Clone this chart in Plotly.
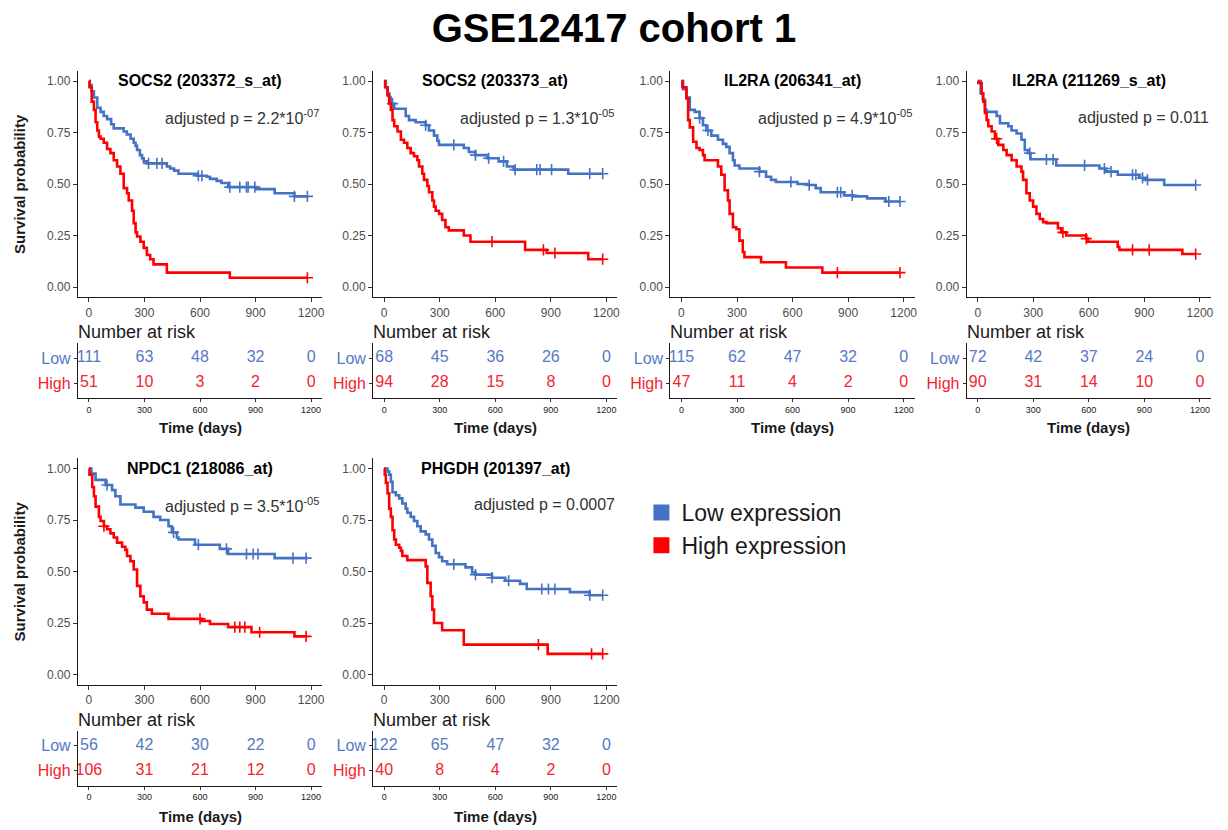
import plotly.graph_objects as go

FONT = "Liberation Sans, Arial, sans-serif"
BLUE = "#4472C4"
RED = "#FF0000"
BLUE_TXT = "#5479C6"
RED_TXT = "#F2242F"

fig_title = "GSE12417 cohort 1"
panel_titles = ["SOCS2 (203372_s_at)", "SOCS2 (203373_at)", "IL2RA (206341_at)",
                "IL2RA (211269_s_at)", "NPDC1 (218086_at)", "PHGDH (201397_at)"]
p_labels = ["adjusted p = 2.2*10<sup>-07</sup>", "adjusted p = 1.3*10<sup>-05</sup>",
            "adjusted p = 4.9*10<sup>-05</sup>", "adjusted p = 0.011",
            "adjusted p = 3.5*10<sup>-05</sup>", "adjusted p = 0.0007"]
group_names = ["Low expression", "High expression"]
risk_times = [0, 300, 600, 900, 1200]
surv_ticks = [0, 0.25, 0.5, 0.75, 1.0]

# ---- Panel 1: SOCS2 (203372_s_at)
p1_low_t = [0, 5, 15, 27, 45, 63, 80, 98, 120, 134, 188, 205, 225, 242, 252, 260, 275, 287, 296, 313,
            421, 439, 460, 484, 582, 636, 654, 690, 716, 752, 904, 1003, 1110, 1180]
p1_low_s = [1.0, 0.98, 0.95, 0.92, 0.87, 0.85, 0.83, 0.815, 0.79, 0.77, 0.755, 0.74, 0.72, 0.70, 0.685,
            0.665, 0.64, 0.625, 0.61, 0.60, 0.585, 0.575, 0.565, 0.55, 0.54, 0.535, 0.525, 0.515, 0.505,
            0.485, 0.475, 0.455, 0.44, 0.44]
p1_low_cens = [322, 367, 395, 591, 610, 761, 815, 851, 860, 896, 1110, 1180]
p1_high_t = [0, 3, 15, 27, 36, 45, 54, 63, 80, 98, 116, 134, 152, 170, 188, 206, 215, 233, 242, 252,
             260, 278, 296, 313, 331, 349, 421, 761, 1180]
p1_high_s = [1.0, 0.97, 0.90, 0.86, 0.80, 0.76, 0.73, 0.72, 0.70, 0.67, 0.65, 0.615, 0.585, 0.55, 0.48,
             0.455, 0.42, 0.37, 0.31, 0.265, 0.245, 0.22, 0.19, 0.155, 0.135, 0.11, 0.07, 0.045, 0.045]
p1_high_cens = [1180]
p1_risk_low = [111, 63, 48, 32, 0]
p1_risk_high = [51, 10, 3, 2, 0]

# ---- Panel 2: SOCS2 (203373_at)
p2_low_t = [0, 9, 18, 27, 36, 54, 116, 134, 170, 224, 242, 269, 287, 296, 430, 457, 493, 555, 618,
            663, 699, 994, 1180]
p2_low_s = [1.0, 0.97, 0.94, 0.92, 0.89, 0.865, 0.83, 0.81, 0.80, 0.785, 0.76, 0.735, 0.71, 0.69,
            0.675, 0.655, 0.64, 0.625, 0.61, 0.585, 0.57, 0.55, 0.55]
p2_low_cens = [45, 224, 376, 493, 564, 645, 707, 824, 842, 904, 1110, 1180]
p2_high_t = [0, 5, 18, 27, 36, 45, 54, 72, 90, 107, 125, 143, 161, 179, 188, 206, 215, 233, 242, 260,
             269, 278, 296, 313, 331, 349, 430, 466, 761, 878, 1102, 1180]
p2_high_s = [1.0, 0.97, 0.93, 0.89, 0.86, 0.81, 0.78, 0.755, 0.715, 0.70, 0.675, 0.65, 0.635, 0.615,
             0.585, 0.55, 0.52, 0.49, 0.46, 0.42, 0.39, 0.37, 0.355, 0.325, 0.29, 0.275, 0.25, 0.22,
             0.18, 0.165, 0.135, 0.135]
p2_high_cens = [582, 860, 922, 1180]
p2_risk_low = [68, 45, 36, 26, 0]
p2_risk_high = [94, 28, 15, 8, 0]

# ---- Panel 3: IL2RA (206341_at)
p3_low_t = [0, 9, 27, 45, 72, 98, 116, 134, 161, 197, 224, 242, 260, 278, 287, 313, 421, 457, 484,
            510, 627, 681, 725, 752, 878, 931, 1003, 1102, 1180]
p3_low_s = [1.0, 0.96, 0.92, 0.86, 0.85, 0.82, 0.785, 0.76, 0.735, 0.715, 0.695, 0.68, 0.65, 0.615,
            0.59, 0.575, 0.56, 0.535, 0.52, 0.51, 0.50, 0.495, 0.48, 0.46, 0.445, 0.44, 0.43, 0.415, 0.415]
p3_low_cens = [98, 143, 421, 591, 690, 842, 860, 922, 1120, 1180]
p3_high_t = [0, 5, 27, 36, 45, 63, 81, 98, 116, 125, 197, 215, 233, 251, 260, 278, 296, 313, 331, 340,
             430, 564, 761, 1180]
p3_high_s = [1.0, 0.97, 0.915, 0.81, 0.775, 0.705, 0.675, 0.665, 0.64, 0.615, 0.585, 0.545, 0.47,
             0.42, 0.355, 0.29, 0.28, 0.225, 0.17, 0.145, 0.12, 0.095, 0.07, 0.07]
p3_high_cens = [842, 1180]
p3_risk_low = [115, 62, 47, 32, 0]
p3_risk_high = [47, 11, 4, 2, 0]

# ---- Panel 4: IL2RA (211269_s_at)
p4_low_t = [0, 16, 27, 39, 48, 102, 120, 165, 183, 210, 236, 254, 272, 285, 424, 657, 693, 756, 872,
            908, 1007, 1180]
p4_low_s = [1.0, 0.94, 0.91, 0.86, 0.85, 0.83, 0.795, 0.78, 0.76, 0.745, 0.715, 0.665, 0.65, 0.62,
            0.59, 0.575, 0.56, 0.545, 0.53, 0.52, 0.495, 0.495]
p4_low_cens = [281, 371, 407, 577, 684, 720, 836, 854, 890, 917, 1177]
p4_high_t = [0, 3, 21, 30, 39, 48, 57, 75, 93, 111, 138, 156, 183, 210, 236, 245, 263, 281, 299, 317,
             335, 353, 371, 433, 451, 478, 586, 595, 756, 765, 1105, 1180]
p4_high_s = [1.0, 0.99, 0.94, 0.90, 0.845, 0.81, 0.78, 0.755, 0.72, 0.69, 0.665, 0.64, 0.615, 0.585,
             0.56, 0.52, 0.455, 0.42, 0.39, 0.355, 0.33, 0.315, 0.31, 0.285, 0.265, 0.25, 0.235, 0.22,
             0.195, 0.18, 0.16, 0.16]
p4_high_cens = [102, 460, 586, 836, 926, 1177]
p4_risk_low = [72, 42, 37, 24, 0]
p4_risk_high = [90, 31, 14, 10, 0]

# ---- Panel 5: NPDC1 (218086_at)
p5_low_t = [0, 13, 36, 90, 125, 143, 170, 251, 296, 349, 385, 430, 448, 475, 484, 573, 707, 752,
            1003, 1180]
p5_low_s = [1.0, 0.975, 0.945, 0.92, 0.895, 0.865, 0.825, 0.81, 0.79, 0.765, 0.75, 0.72, 0.69, 0.665,
            0.655, 0.63, 0.61, 0.585, 0.565, 0.565]
p5_low_cens = [98, 457, 591, 743, 851, 887, 913, 1102, 1173]
p5_high_t = [0, 3, 18, 27, 36, 54, 63, 81, 98, 116, 134, 152, 179, 197, 206, 224, 242, 260, 278, 296,
             313, 340, 430, 609, 654, 752, 878, 1110, 1180]
p5_high_s = [1.0, 0.97, 0.91, 0.865, 0.815, 0.765, 0.745, 0.72, 0.705, 0.685, 0.665, 0.64, 0.62, 0.605,
             0.575, 0.55, 0.51, 0.43, 0.38, 0.35, 0.315, 0.295, 0.27, 0.26, 0.245, 0.23, 0.205, 0.185,
             0.185]
p5_high_cens = [81, 600, 788, 815, 842, 922, 1173]
p5_risk_low = [56, 42, 30, 22, 0]
p5_risk_high = [106, 31, 21, 12, 0]

# ---- Panel 6: PHGDH (201397_at)
p6_low_t = [0, 18, 27, 36, 45, 63, 81, 98, 116, 125, 143, 161, 179, 197, 224, 242, 260, 278, 296, 313,
            340, 439, 475, 493, 582, 654, 734, 770, 1003, 1110, 1180]
p6_low_s = [1.0, 0.985, 0.97, 0.935, 0.885, 0.87, 0.855, 0.83, 0.805, 0.785, 0.765, 0.745, 0.72, 0.695,
            0.68, 0.655, 0.625, 0.59, 0.57, 0.55, 0.535, 0.52, 0.495, 0.485, 0.47, 0.455, 0.44, 0.415,
            0.40, 0.385, 0.385]
p6_low_cens = [376, 493, 582, 672, 851, 887, 922, 1110, 1180]
p6_high_t = [0, 3, 9, 18, 27, 36, 45, 54, 63, 81, 90, 98, 125, 224, 233, 251, 260, 269, 313, 430, 883,
             1180]
p6_high_s = [1.0, 0.97, 0.93, 0.88, 0.805, 0.765, 0.70, 0.655, 0.63, 0.615, 0.60, 0.575, 0.555, 0.525,
             0.445, 0.38, 0.315, 0.25, 0.215, 0.145, 0.10, 0.10]
p6_high_cens = [833, 1120, 1180]
p6_risk_low = [122, 65, 47, 32, 0]
p6_risk_high = [40, 8, 4, 2, 0]

panels = [
    (p1_low_t, p1_low_s, p1_low_cens, p1_high_t, p1_high_s, p1_high_cens, p1_risk_low, p1_risk_high),
    (p2_low_t, p2_low_s, p2_low_cens, p2_high_t, p2_high_s, p2_high_cens, p2_risk_low, p2_risk_high),
    (p3_low_t, p3_low_s, p3_low_cens, p3_high_t, p3_high_s, p3_high_cens, p3_risk_low, p3_risk_high),
    (p4_low_t, p4_low_s, p4_low_cens, p4_high_t, p4_high_s, p4_high_cens, p4_risk_low, p4_risk_high),
    (p5_low_t, p5_low_s, p5_low_cens, p5_high_t, p5_high_s, p5_high_cens, p5_risk_low, p5_risk_high),
    (p6_low_t, p6_low_s, p6_low_cens, p6_high_t, p6_high_s, p6_high_cens, p6_risk_low, p6_risk_high),
]


def step_value(ts, ss, x):
    v = ss[0]
    for t, s in zip(ts, ss):
        if t <= x:
            v = s
    return v


W, H = 1228, 830
col_left = [78, 374, 672, 969]
panel_w = 245
row_off = [0, 387.5]
km_top, km_bot = 70.7, 297.3
rt_top, rt_bot = 343, 398
time_lbl_y = [427, 816]
pos = [(0, 0), (0, 1), (0, 2), (0, 3), (1, 0), (1, 1)]

fig = go.Figure()
layout = {}
annotations = []

axis_common = dict(showgrid=False, zeroline=False, showline=True, linecolor="#1a1a1a", linewidth=1,
                   ticks="outside", tickcolor="#333333", tickwidth=1, fixedrange=True)

for k, (r, c) in enumerate(pos):
    lt, ls, lc, ht, hs, hc, rl, rh = panels[k]
    km = 2 * k + 1
    rt = 2 * k + 2
    kx, ky = ("x" if km == 1 else f"x{km}"), ("y" if km == 1 else f"y{km}")
    rx, ry = f"x{rt}", f"y{rt}"
    L = col_left[c]
    off = row_off[r]
    xdom = [L / W, (L + panel_w) / W]

    # curves
    for ts, ss, cens, col in [(lt, ls, lc, BLUE), (ht, hs, hc, RED)]:
        fig.add_trace(go.Scatter(x=ts, y=ss, mode="lines", line=dict(color=col, width=2.6, shape="hv"),
                                 xaxis=kx, yaxis=ky, showlegend=False, hoverinfo="skip"))
        fig.add_trace(go.Scatter(x=cens, y=[step_value(ts, ss, t) for t in cens], mode="markers",
                                 marker=dict(symbol="cross-thin", size=8, line=dict(color=col, width=1.6)),
                                 xaxis=kx, yaxis=ky, showlegend=False, hoverinfo="skip"))
    # risk table
    fig.add_trace(go.Scatter(x=risk_times, y=[2] * len(risk_times), mode="text", text=[str(v) for v in rl],
                             textfont=dict(size=16, color=BLUE_TXT, family=FONT), cliponaxis=False,
                             xaxis=rx, yaxis=ry, showlegend=False, hoverinfo="skip"))
    fig.add_trace(go.Scatter(x=risk_times, y=[1] * len(risk_times), mode="text", text=[str(v) for v in rh],
                             textfont=dict(size=16, color=RED_TXT, family=FONT), cliponaxis=False,
                             xaxis=rx, yaxis=ry, showlegend=False, hoverinfo="skip"))

    kxname = "xaxis" if km == 1 else f"xaxis{km}"
    kyname = "yaxis" if km == 1 else f"yaxis{km}"
    layout[kxname] = dict(axis_common, domain=xdom, range=[-60, 1260], tickvals=risk_times, ticklen=4,
                          anchor=ky, tickfont=dict(size=12, color="#4D4D4D", family=FONT))
    layout[kyname] = dict(axis_common, domain=[1 - (km_bot + off) / H, 1 - (km_top + off) / H],
                          range=[-0.05, 1.05], tickvals=surv_ticks, tickformat=".2f", ticklen=4,
                          anchor=kx, tickfont=dict(size=12, color="#4D4D4D", family=FONT))
    layout[f"xaxis{rt}"] = dict(axis_common, domain=xdom, range=[-60, 1260], tickvals=risk_times, ticklen=3,
                                anchor=ry, tickfont=dict(size=9, color="#1a1a1a", family=FONT))
    layout[f"yaxis{rt}"] = dict(axis_common, domain=[1 - (rt_bot + off) / H, 1 - (rt_top + off) / H],
                                range=[0.4, 2.6], tickvals=[1, 2], ticklen=3, anchor=rx,
                                ticktext=[f"<span style='color:{RED_TXT}'>High</span>",
                                          f"<span style='color:{BLUE_TXT}'>Low</span>"],
                                tickfont=dict(size=16, family=FONT))

    # panel title and p value
    annotations.append(dict(xref=f"{kx} domain", yref=f"{ky} domain", x=0.5, y=0.955,
                            text=f"<b>{panel_titles[k]}</b>", showarrow=False, xanchor="center",
                            yanchor="middle", font=dict(size=16, color="black", family=FONT)))
    annotations.append(dict(xref=f"{kx} domain", yref=f"{ky} domain", x=1.0, y=0.795,
                            text=p_labels[k], showarrow=False, xanchor="right",
                            yanchor="middle", font=dict(size=16, color="#333333", family=FONT)))
    annotations.append(dict(xref="paper", yref="paper", x=(L - 2) / W, y=1 - (332 + off) / H,
                            text="Number at risk", showarrow=False, xanchor="left", yanchor="middle",
                            font=dict(size=18, color="#1a1a1a", family=FONT)))
    annotations.append(dict(xref="paper", yref="paper", x=(L + panel_w / 2) / W, y=1 - time_lbl_y[r] / H,
                            text="<b>Time (days)</b>", showarrow=False, xanchor="center", yanchor="middle",
                            font=dict(size=15, color="#1a1a1a", family=FONT)))
    if c == 0:
        annotations.append(dict(xref="paper", yref="paper", x=20 / W,
                                y=1 - (off + (km_top + km_bot) / 2) / H,
                                text="<b>Survival probability</b>", showarrow=False, textangle=-90,
                                xanchor="center", yanchor="middle",
                                font=dict(size=15, color="#1a1a1a", family=FONT)))

# legend entries
for name, col in zip(group_names, [BLUE, RED]):
    fig.add_trace(go.Scatter(x=[None], y=[None], mode="markers", name=name,
                             marker=dict(symbol="square", size=20, color=col), xaxis="x", yaxis="y"))

fig.update_layout(
    width=W, height=H, margin=dict(l=0, r=0, t=0, b=0),
    paper_bgcolor="white", plot_bgcolor="white",
    font=dict(family=FONT),
    title=dict(text=f"<b>{fig_title}</b>", x=0.5, xanchor="center", y=1 - 28 / H, yanchor="middle",
               font=dict(size=40, color="black", family=FONT)),
    showlegend=True,
    legend=dict(x=643 / W, y=1 - 491 / H, xanchor="left", yanchor="top", bgcolor="rgba(0,0,0,0)",
                font=dict(size=23, color="#1a1a1a", family=FONT), itemsizing="trace", tracegroupgap=0),
    annotations=annotations,
    **layout,
)

fig.write_html("out.html", config={"displayModeBar": False})
